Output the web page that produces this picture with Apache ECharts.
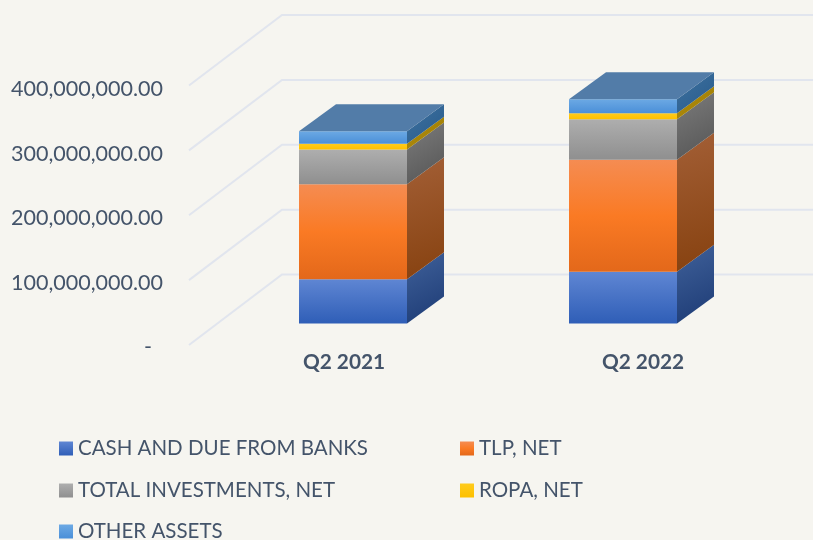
<!DOCTYPE html>
<html><head><meta charset="utf-8">
<style>html,body{margin:0;padding:0;background:#f6f5f0}#c{width:813px;height:540px}</style>
<script src="https://cdn.jsdelivr.net/npm/echarts@6/dist/echarts.min.js"></script>
</head><body><div id="c"></div>
<script>
const categories = ['Q2 2021', 'Q2 2022'];
const cashAndDue = [68400000, 79700000];
const tlpNet = [146400000, 172600000];
const totalInvestments = [53300000, 62700000];
const ropaNet = [8800000, 9200000];
const otherAssets = [19600000, 21600000];
const gridTicks = [0, 100000000, 200000000, 300000000, 400000000];

const FONT = 'Lato';
const TEXT = '#44546a';
const DX = 93, DY = -70.5;            // wall depth of the 3D box
const BAR_OX = 29, BAR_OY = -21.5;    // bar front plane, from the axis plane
const BAR_DX = 37, BAR_DY = -27;      // bar depth
const BAR_W = 0.4;

const vg = (a, b) => ({type:'linear',x:0,y:0,x2:0,y2:1,colorStops:[{offset:0,color:a},{offset:1,color:b}]});
const dg = (a, b) => ({type:'linear',x:0,y:0,x2:1,y2:1,colorStops:[{offset:0,color:a},{offset:1,color:b}]});

const seriesDefs = [
  {name:'CASH AND DUE FROM BANKS', values:cashAndDue, front:vg('#5f86d3','#2f5eb7'), side:dg('#40619a','#1c3a74')},
  {name:'TLP, NET', values:tlpNet, front:{type:'linear',x:0,y:0,x2:0,y2:1,colorStops:[{offset:0,color:'#f58c52'},{offset:0.5,color:'#fa7a24'},{offset:1,color:'#e3681a'}]}, side:dg('#a35f36','#86410f')},
  {name:'TOTAL INVESTMENTS, NET', values:totalInvestments, front:vg('#aeaeae','#8f8f8f'), side:dg('#7c7c7c','#545454')},
  {name:'ROPA, NET', values:ropaNet, front:vg('#ffcb1c','#fdc000'), side:dg('#ad8a10','#a27f00')},
  {name:'OTHER ASSETS', values:otherAssets, front:vg('#6ca9e4','#4a8fd8'), side:dg('#3f729f','#275a8c')}
];
const TOP_FACE = '#527ca8';

function barRender(seriesIndex) {
  return function (params, api) {
    const cat = api.value(0), y0 = api.value(1), y1 = api.value(2);
    const band = api.size([1, 0])[0];
    const w = band * BAR_W;
    const c0 = api.coord([cat, y0]), c1 = api.coord([cat, y1]);
    const l = c0[0] - w / 2 + BAR_OX, r = l + w;
    const b = c0[1] + BAR_OY, t = c1[1] + BAR_OY;
    const dx = BAR_DX, dy = BAR_DY;
    const def = seriesDefs[seriesIndex];
    const children = [
      {type:'polygon', shape:{points:[[r,b],[r+dx,b+dy],[r+dx,t+dy],[r,t]]}, style:{fill:def.side}},
      {type:'rect', shape:{x:l,y:t,width:w,height:b-t}, style:{fill:def.front}}
    ];
    if (seriesIndex === seriesDefs.length - 1) {
      children.push({type:'polygon', shape:{points:[[l,t],[r,t],[r+dx,t+dy],[l+dx,t+dy]]}, style:{fill:TOP_FACE}});
    }
    return {type:'group', children};
  };
}

const gridSeries = {
  type:'custom', name:'walls', silent:true, xAxisIndex:0, yAxisIndex:0, z:1,
  data: gridTicks.map(v => [0, v]),
  encode:{x:0, y:1},
  renderItem(params, api) {
    const y = api.coord([0, api.value(1)])[1];
    const x = params.coordSys.x;
    return {type:'polyline', shape:{points:[[x,y],[x+DX,y+DY],[813,y+DY]]},
      style:{stroke:'#e1e5ee', lineWidth:2, fill:null}};
  },
  clip:false
};

const barSeries = seriesDefs.map((def, si) => ({
  type:'custom', name:def.name, xAxisIndex:0, yAxisIndex:0, z:2+si, clip:false,
  itemStyle:{color:def.front},
  encode:{x:0, y:[1,2]},
  data: categories.map((c, i) => {
    let base = 0;
    for (let k = 0; k < si; k++) base += seriesDefs[k].values[i];
    return [i, base, base + def.values[i]];
  }),
  renderItem: barRender(si)
}));

const legendPos = [[59,438],[460,438],[59,480],[460,480],[59,521]];
const fmt = v => v === 0 ? '-\u00a0\u00a0' :
  v.toLocaleString('en-US',{minimumFractionDigits:2,maximumFractionDigits:2});

const chart = echarts.init(document.getElementById('c'), null, {renderer:'canvas'});
chart.setOption({
  animation:false,
  backgroundColor:'#f6f5f0',
  textStyle:{fontFamily:FONT},
  grid:[
    {left:189, top:85.5, width:540, height:259.5},
    {left:194.5, top:89.5, width:598, height:257.5}
  ],
  xAxis:[
    {type:'category', gridIndex:0, data:categories, axisLine:{show:false}, axisTick:{show:false}, axisLabel:{show:false}, splitLine:{show:false}},
    {type:'category', gridIndex:1, data:categories, axisLine:{show:false}, axisTick:{show:false}, splitLine:{show:false},
     axisLabel:{show:true, interval:0, margin:5, color:TEXT, fontFamily:FONT, fontSize:20.8, fontWeight:'bold'}}
  ],
  yAxis:[
    {type:'value', gridIndex:0, min:0, max:400000000, interval:100000000, show:false},
    {type:'value', gridIndex:1, min:0, max:400000000, interval:100000000,
     axisLine:{show:false}, axisTick:{show:false}, splitLine:{show:false},
     axisLabel:{show:true, margin:31.5, color:TEXT, fontFamily:FONT, fontSize:21.5, formatter:fmt}}
  ],
  legend: seriesDefs.map((def, i) => ({
    data:[def.name], left:legendPos[i][0], top:legendPos[i][1], padding:0,
    icon:'rect', itemWidth:14, itemHeight:14, selectedMode:false,
    textStyle:{color:TEXT, fontFamily:FONT, fontSize:20.5}
  })),
  series:[gridSeries].concat(barSeries)
});
</script></body></html>
